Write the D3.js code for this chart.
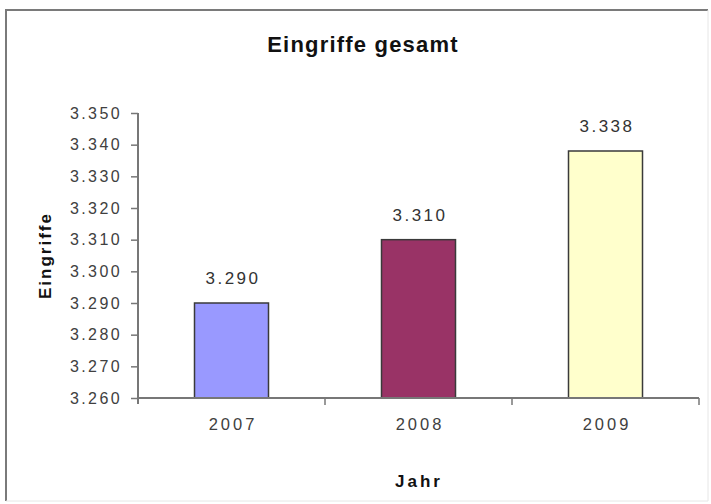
<!DOCTYPE html>
<html>
<head>
<meta charset="utf-8">
<script src="https://cdn.jsdelivr.net/npm/d3@7"></script>
<style>
  html, body { margin: 0; padding: 0; background: #fff; }
  svg { display: block; font-family: Arial, "Liberation Sans", sans-serif; }
</style>
</head>
<body>
<svg id="chart" width="711" height="504"></svg>
<script>
const categories = ["2007", "2008", "2009"];
const values = [3290, 3310, 3338];
const colors = ["#9999FF", "#993366", "#FFFFCC"];
const yTicks = [3260, 3270, 3280, 3290, 3300, 3310, 3320, 3330, 3340, 3350];
const title = "Eingriffe gesamt";
const xTitle = "Jahr";
const yTitle = "Eingriffe";

const svg = d3.select("#chart");
const W = 711, H = 504;

// outer chart-area border
svg.append("line").attr("x1", 6).attr("y1", 10).attr("x2", 6).attr("y2", 501)
  .attr("stroke", "#7a7a7a").attr("stroke-width", 2);
svg.append("line").attr("x1", 5).attr("y1", 10).attr("x2", 708).attr("y2", 10)
  .attr("stroke", "#7a7a7a").attr("stroke-width", 2);
svg.append("line").attr("x1", 708).attr("y1", 10).attr("x2", 708).attr("y2", 501)
  .attr("stroke", "#e6e6e6").attr("stroke-width", 1);
svg.append("line").attr("x1", 6).attr("y1", 501).attr("x2", 708).attr("y2", 501)
  .attr("stroke", "#e6e6e6").attr("stroke-width", 1);

const plot = { left: 138, right: 699, top: 113, bottom: 398 };

const x = d3.scaleBand().domain(categories).range([plot.left, plot.right]).paddingInner(0.6).paddingOuter(0.3);
const xb = d3.scaleBand().domain(categories).range([plot.left, plot.right]);
const y = d3.scaleLinear().domain([3260, 3350]).range([plot.bottom, plot.top]);

const fmt = v => d3.format(",")(v).replace(/,/g, ".");

// bars
svg.append("g").selectAll("rect").data(values).join("rect")
  .attr("x", (d, i) => xb(categories[i]) + xb.bandwidth() / 2 - 37)
  .attr("width", 74)
  .attr("y", d => y(d))
  .attr("height", d => plot.bottom - y(d))
  .attr("fill", (d, i) => colors[i])
  .attr("stroke", "#3a3a3a").attr("stroke-width", 1.5);

// value labels
svg.append("g").selectAll("text").data(values).join("text")
  .attr("x", (d, i) => xb(categories[i]) + xb.bandwidth() / 2 + 1.5)
  .attr("y", d => y(d) - 19)
  .attr("text-anchor", "middle")
  .attr("font-size", 17).attr("letter-spacing", 2.5)
  .attr("fill", "#333")
  .text(d => fmt(d));

// y axis
const yAxis = svg.append("g").attr("transform", `translate(${plot.left},0)`)
  .call(d3.axisLeft(y).tickValues(yTicks).tickSize(7).tickPadding(9).tickFormat(fmt).tickSizeOuter(0));
yAxis.select(".domain").attr("stroke", "#777").attr("stroke-width", 2)
  .attr("d", `M0,${plot.top}V${plot.bottom + 6}`);
yAxis.selectAll(".tick line").attr("stroke", "#777").attr("stroke-width", 1.5);
yAxis.selectAll(".tick text").attr("font-size", 16).attr("letter-spacing", 2.4)
  .attr("fill", "#404040").attr("font-family", "Arial, 'Liberation Sans', sans-serif");

// x axis
const xAxis = svg.append("g").attr("transform", `translate(0,${plot.bottom})`)
  .call(d3.axisBottom(xb).tickSize(0).tickPadding(20));
xAxis.select(".domain").attr("stroke", "#777").attr("stroke-width", 2)
  .attr("d", `M${plot.left - 1},0H${plot.right}`);
xAxis.selectAll(".tick text").attr("font-size", 16.5).attr("letter-spacing", 3)
  .attr("dx", 1.5).attr("fill", "#404040").attr("font-family", "Arial, 'Liberation Sans', sans-serif");
// category boundary tick marks
const bounds = categories.map(c => xb(c)).concat([plot.right]).slice(1);
svg.append("g").selectAll("line").data(bounds).join("line")
  .attr("x1", d => d).attr("x2", d => d)
  .attr("y1", plot.bottom).attr("y2", plot.bottom + 7)
  .attr("stroke", "#777").attr("stroke-width", 1.5);

// title
svg.append("text").attr("x", 363).attr("y", 52).attr("text-anchor", "middle")
  .attr("font-size", 22).attr("font-weight", "bold").attr("letter-spacing", 1.2)
  .attr("fill", "#111").text(title);

// x title
svg.append("text").attr("x", 419).attr("y", 487).attr("text-anchor", "middle")
  .attr("font-size", 17).attr("font-weight", "bold").attr("letter-spacing", 3)
  .attr("fill", "#111").text(xTitle);

// y title
svg.append("text").attr("transform", `translate(51,${(plot.top + plot.bottom) / 2}) rotate(-90)`)
  .attr("text-anchor", "middle")
  .attr("font-size", 17).attr("font-weight", "bold").attr("letter-spacing", 2)
  .attr("fill", "#111").text(yTitle);
</script>
</body>
</html>
